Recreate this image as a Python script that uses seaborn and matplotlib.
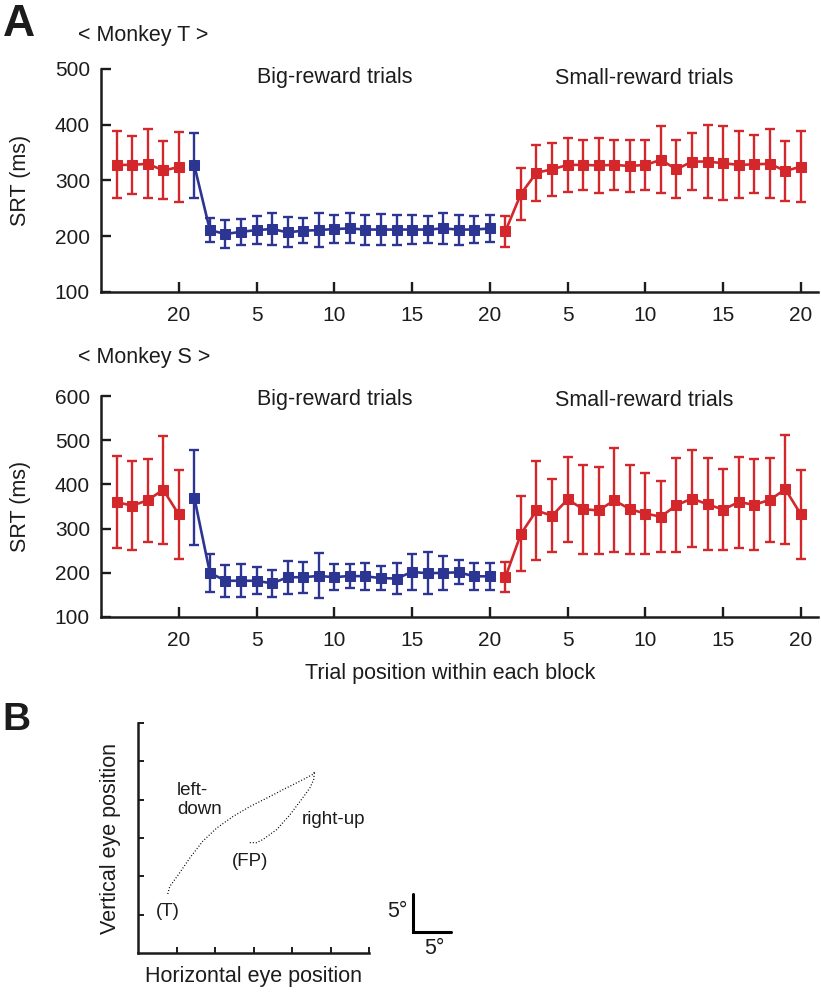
import numpy as np
import pandas as pd
import matplotlib
matplotlib.use("Agg")
import matplotlib.pyplot as plt
import seaborn as sns

# ---------------- data ----------------
prev_trials = np.arange(16, 21)          # last trials of preceding small-reward block
block_trials = np.arange(1, 21)          # trials within a block
xtick_labels = ["20", "5", "10", "15", "20", "5", "10", "15", "20"]

# Monkey T
T_prev_mean = [328, 328, 330, 318, 324]
T_prev_err = [60, 52, 62, 52, 63]
T_big_mean = [327, 211, 204, 208, 211, 213, 207, 210, 211, 213,
              214, 212, 212, 212, 212, 212, 214, 212, 212, 214]
T_big_err = [58, 21, 25, 23, 25, 29, 27, 23, 31, 25,
             27, 27, 28, 27, 26, 25, 28, 27, 25, 25]
T_small_mean = [209, 276, 314, 320, 328, 328, 327, 328, 326, 328,
                337, 320, 334, 334, 331, 328, 329, 330, 317, 325]
T_small_err = [28, 47, 50, 48, 48, 45, 50, 45, 47, 45,
               60, 52, 51, 66, 66, 60, 52, 62, 53, 63]

# Monkey S
S_prev_mean = [360, 352, 364, 388, 332]
S_prev_err = [104, 101, 94, 122, 100]
S_big_mean = [370, 200, 182, 182, 182, 176, 190, 190, 193, 190,
              193, 192, 188, 187, 202, 199, 200, 201, 192, 192]
S_big_err = [108, 43, 36, 37, 31, 30, 37, 35, 51, 30,
             27, 31, 27, 36, 41, 48, 39, 27, 31, 31]
S_small_mean = [190, 288, 341, 329, 366, 344, 341, 364, 344, 334,
                327, 353, 368, 355, 343, 360, 354, 365, 389, 332]
S_small_err = [34, 85, 113, 83, 97, 101, 98, 118, 101, 91,
               80, 107, 110, 104, 92, 103, 103, 95, 123, 100]

# Panel B eye trace (degrees)
rightup_x = [14.5, 15.4, 16.2, 18.0, 19.7, 21.2, 22.3, 22.8, 22.9]
rightup_y = [14.4, 14.4, 14.8, 16.1, 18.0, 20.0, 21.5, 22.6, 23.6]
leftdown_x = [22.9, 22.7, 21.0, 18.8, 16.7, 14.5, 12.3, 10.2, 8.4, 6.7, 5.2, 4.1, 3.8]
leftdown_y = [23.6, 23.3, 22.4, 21.3, 20.2, 19.1, 17.8, 16.3, 14.6, 12.4, 10.2, 8.7, 7.6]

# ---------------- style ----------------
sns.set_style("ticks")
TXT = '#1c1c1c'
plt.rcParams['font.family'] = ['Liberation Sans', 'DejaVu Sans']
plt.rcParams['text.color'] = TXT
plt.rcParams['axes.labelcolor'] = TXT
plt.rcParams['xtick.color'] = TXT
plt.rcParams['ytick.color'] = TXT
plt.rcParams['axes.edgecolor'] = TXT

RED = '#d3272c'
BLUE = '#2d3592'
FS = 15.5
TICK_FS = 15

W, H = 821, 993
fig = plt.figure(figsize=(W / 100, H / 100), dpi=100)

def px_axes(left, top, right, bottom):
    return fig.add_axes([left / W, 1 - bottom / H, (right - left) / W, (bottom - top) / H])

axT = px_axes(101, 69, 818, 292)
axS = px_axes(101, 396, 818, 617)
axB = px_axes(138.3, 723, 369, 953)


def draw_panel(ax, pm, pe, bm, be, sm, se, ylim, yticks):
    segs = [(prev_trials - 20, pm, pe, RED),
            (block_trials, bm, be, BLUE),
            (block_trials + 20, sm, se, RED)]
    for x, m, e, c in segs:
        ax.errorbar(x, m, yerr=e, fmt='none', ecolor=c, elinewidth=1.7,
                    capsize=3.3, capthick=1.7, zorder=2)
        df = pd.DataFrame({'x': x, 'y': m})
        sns.lineplot(data=df, x='x', y='y', ax=ax, color=c, marker='s',
                     markersize=6.5, markeredgecolor=c, linewidth=1.9, zorder=3)
    ax.set_xlim(-5, 41.1)
    ax.set_ylim(*ylim)
    ax.set_yticks(yticks)
    ax.set_xticks(np.arange(0, 41, 5))
    ax.set_xticklabels(xtick_labels)
    sns.despine(ax=ax)
    for s in ('left', 'bottom'):
        ax.spines[s].set_linewidth(1.8)
    ax.tick_params(direction='in', length=7, width=1.7, labelsize=TICK_FS)
    ax.tick_params(axis='x', pad=10)
    ax.tick_params(axis='y', pad=8)
    ax.set_xlabel('')
    ax.set_ylabel('SRT (ms)', fontsize=FS)
    ax.yaxis.set_label_coords(-0.098, 0.5)


draw_panel(axT, T_prev_mean, T_prev_err, T_big_mean, T_big_err,
           T_small_mean, T_small_err, (100, 500), [100, 200, 300, 400, 500])
draw_panel(axS, S_prev_mean, S_prev_err, S_big_mean, S_big_err,
           S_small_mean, S_small_err, (100, 600), [100, 200, 300, 400, 500, 600])

axS.set_xlabel('Trial position within each block', fontsize=FS)
axS.xaxis.set_label_coords(0.487, -0.21)

fig.text(78 / W, 1 - 35 / H, '< Monkey T >', fontsize=FS, ha='left', va='center')
fig.text(78 / W, 1 - 358 / H, '< Monkey S >', fontsize=FS, ha='left', va='center')
for ytxt in (78, 400):
    fig.text(335 / W, 1 - ytxt / H, 'Big-reward trials', fontsize=FS, ha='center', va='center')
    fig.text(644 / W, 1 - ytxt / H, 'Small-reward trials', fontsize=FS, ha='center', va='center')

fig.text(19 / W, 1 - 24 / H, 'A', fontsize=32, fontweight='bold', ha='center', va='center')
fig.text(16 / W, 1 - 720 / H, 'B', fontsize=28, fontweight='bold', ha='center', va='center')

# ---------------- panel B ----------------
sns.lineplot(x=rightup_x, y=rightup_y, ax=axB, color='black', linewidth=0.9,
             linestyle=(0, (0.8, 1.6)), sort=False, estimator=None)
sns.lineplot(x=leftdown_x, y=leftdown_y, ax=axB, color='black', linewidth=0.9,
             linestyle=(0, (0.8, 1.6)), sort=False, estimator=None)
axB.set_xlim(0, 30)
axB.set_ylim(0, 30)
axB.set_xticks(np.arange(5, 31, 5))
axB.set_yticks(np.arange(5, 31, 5))
axB.set_xticklabels([])
axB.set_yticklabels([])
sns.despine(ax=axB)
for s in ('left', 'bottom'):
    axB.spines[s].set_linewidth(1.8)
axB.tick_params(direction='in', length=4, width=1.4)
axB.set_xlabel('Horizontal eye position', fontsize=FS)
axB.set_ylabel('Vertical eye position', fontsize=FS)
axB.xaxis.set_label_coords(0.5, -0.055)
axB.yaxis.set_label_coords(-0.075, 0.5)

axB.text(5.0, 22.3, 'left-\ndown', fontsize=13.5, ha='left', va='top', linespacing=1.15)
axB.text(21.3, 17.4, 'right-up', fontsize=13.5, ha='left', va='center')
axB.text(14.5, 12.0, '(FP)', fontsize=13.5, ha='center', va='center')
axB.text(3.9, 5.4, '(T)', fontsize=13.5, ha='center', va='center')

# scale bar (5 degrees)
axB.plot([35.7, 35.7, 40.7], [7.7, 2.7, 2.7], color='black', linewidth=2.2,
         clip_on=False, solid_joinstyle='miter')
axB.text(35.0, 5.4, '5°', fontsize=FS, ha='right', va='center')
axB.text(38.5, 0.6, '5°', fontsize=FS, ha='center', va='center')

fig.savefig('out.png', dpi=100)
